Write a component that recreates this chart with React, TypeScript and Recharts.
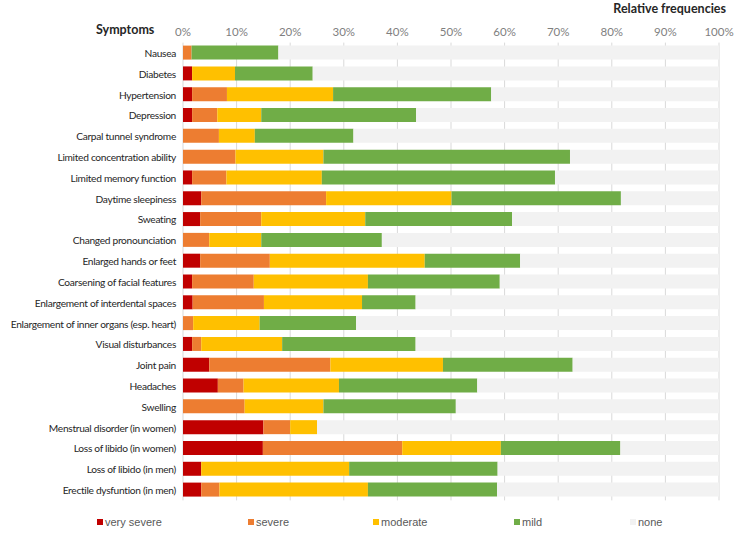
import { BarChart, Bar, XAxis, YAxis, CartesianGrid } from 'recharts';

const symptoms = [
  'Nausea',
  'Diabetes',
  'Hypertension',
  'Depression',
  'Carpal tunnel syndrome',
  'Limited concentration ability',
  'Limited memory function',
  'Daytime sleepiness',
  'Sweating',
  'Changed pronounciation',
  'Enlarged hands or feet',
  'Coarsening of facial features',
  'Enlargement of interdental spaces',
  'Enlargement of inner organs (esp. heart)',
  'Visual disturbances',
  'Joint pain',
  'Headaches',
  'Swelling',
  'Menstrual disorder (in women)',
  'Loss of libido (in women)',
  'Loss of libido (in men)',
  'Erectile dysfuntion (in men)',
];

const verySevere = [0, 1.7, 1.7, 1.7, 0, 0, 1.7, 3.4, 3.2, 0, 3.2, 1.7, 1.8, 0, 1.7, 4.9, 6.5, 0, 15.0, 14.9, 3.4, 3.4];
const severe = [1.6, 0, 6.5, 4.7, 6.7, 9.8, 6.4, 23.3, 11.4, 4.9, 13.0, 11.5, 13.3, 1.9, 1.7, 22.6, 4.8, 11.5, 5.0, 26.0, 0, 3.4];
const moderate = [0, 8.0, 19.8, 8.2, 6.7, 16.4, 17.8, 23.4, 19.4, 9.7, 28.9, 21.3, 18.3, 12.4, 15.1, 21.0, 17.8, 14.7, 5.0, 18.4, 27.6, 27.7];
const mild = [16.2, 14.5, 29.5, 28.9, 18.4, 46.0, 43.5, 31.6, 27.4, 22.5, 17.8, 24.6, 10.0, 18.0, 24.9, 24.2, 25.8, 24.7, 0, 22.3, 27.7, 24.1];
const none = [82.2, 75.8, 42.5, 56.5, 68.2, 27.8, 30.6, 18.3, 38.6, 62.9, 37.1, 40.9, 56.6, 67.7, 56.6, 27.3, 45.1, 49.1, 75.0, 18.4, 41.3, 41.4];

const xTicks = [0, 10, 20, 30, 40, 50, 60, 70, 80, 90, 100];

const data = symptoms.map((name, i) => ({
  name,
  verySevere: verySevere[i],
  severe: severe[i],
  moderate: moderate[i],
  mild: mild[i],
  none: none[i],
}));

const series = [
  { key: 'verySevere', label: 'very severe', color: '#C00000' },
  { key: 'severe', label: 'severe', color: '#ED7D31' },
  { key: 'moderate', label: 'moderate', color: '#FFC000' },
  { key: 'mild', label: 'mild', color: '#70AD47' },
  { key: 'none', label: 'none', color: '#F2F2F2' },
];

// legend item x offsets, as in the original
const legendLeft = [97, 248, 373, 514, 630];

const labelFont = 'Lato, "Liberation Sans", sans-serif';

function SymptomTick(props: any) {
  const { x, y, payload } = props;
  return (
    <text
      x={x}
      y={y}
      textAnchor="end"
      dominantBaseline="central"
      fill="#262626"
      fontSize={10.2}
      letterSpacing={-0.3}
      fontFamily={labelFont}
    >
      {payload.value}
    </text>
  );
}

function LegendRow() {
  return (
    <div style={{ position: 'absolute', left: 0, top: 516, width: 734, height: 16 }}>
      {series.map((s, i) => (
        <div
          key={s.key}
          style={{
            position: 'absolute',
            left: legendLeft[i],
            top: 0,
            display: 'flex',
            alignItems: 'center',
            fontFamily: '"Liberation Sans", Arial, sans-serif',
            fontSize: 11,
            color: '#595959',
            whiteSpace: 'nowrap',
          }}
        >
          <span style={{ display: 'inline-block', width: 6, height: 6, background: s.color, marginRight: 2 }} />
          {s.label}
        </div>
      ))}
    </div>
  );
}

export default function App() {
  return (
    <div style={{ position: 'absolute', left: 0, top: 0, width: 734, height: 533, background: '#fff' }}>
      <div
        style={{
          position: 'absolute',
          right: 8,
          top: 1,
          fontFamily: labelFont,
          fontWeight: 700,
          fontSize: 12.5,
          color: '#262626',
        }}
      >
        Relative frequencies
      </div>
      <div
        style={{
          position: 'absolute',
          left: 96,
          top: 22,
          fontFamily: labelFont,
          fontWeight: 700,
          fontSize: 12.5,
          color: '#262626',
        }}
      >
        Symptoms
      </div>
      <BarChart
        width={734}
        height={533}
        data={data}
        layout="vertical"
        margin={{ top: 22.6, right: 15, bottom: 32.6, left: 0 }}
        barSize={14}
      >
        <CartesianGrid horizontal={false} vertical stroke="#D9D9D9" />
        <XAxis
          type="number"
          orientation="top"
          domain={[0, 100]}
          ticks={xTicks}
          tickFormatter={(v) => `${v}%`}
          height={20}
          axisLine={false}
          tickLine={false}
          tickSize={0}
          tickMargin={7}
          tick={{ fill: '#7F7F7F', fontSize: 11.5, fontFamily: labelFont }}
          interval={0}
        />
        <YAxis
          type="category"
          dataKey="name"
          width={183}
          axisLine={false}
          tickLine={false}
          tickSize={0}
          tickMargin={7}
          interval={0}
          tick={<SymptomTick />}
        />
        {series.map((s) => (
          <Bar key={s.key} dataKey={s.key} name={s.label} stackId="a" fill={s.color} isAnimationActive={false} />
        ))}
      </BarChart>
      <LegendRow />
    </div>
  );
}
